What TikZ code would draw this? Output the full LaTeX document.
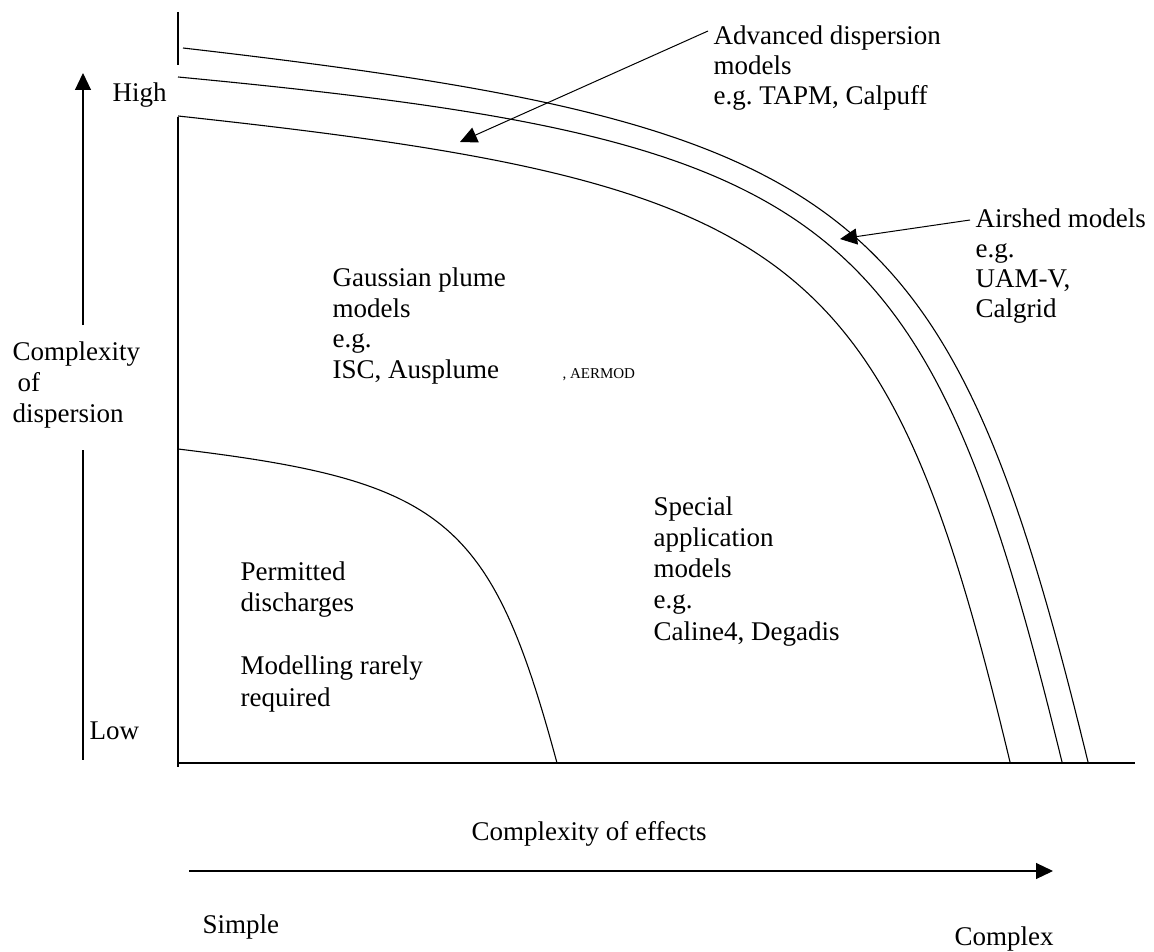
\documentclass[tikz,border=0pt]{standalone}
\usepackage{fontspec}
\setmainfont{Liberation Serif}
\usetikzlibrary{arrows.meta}

\begin{document}
\frenchspacing
\begin{tikzpicture}[x=1pt, y=-1pt, line width=1.1pt,
    lbl/.style={anchor=base west, align=left, inner sep=0pt, font=\fontsize{27}{30.5}\selectfont},
    ptr/.style={-{Triangle[length=17pt,width=16pt]}}]
    \useasboundingbox (0,0) rectangle (1154,952);

    % Draw axes
    \coordinate (O) at (178,763);
    \draw (178,12) -- (178,65);
    \draw (178,117) -- (178,767);
    \draw (O) -- (1135,763);

    % Direction arrows
    \coordinate (yTop) at (83,73);
    \coordinate (yMid) at (83,325);
    \coordinate (yRest) at (83,450);
    \coordinate (yLow) at (83,760);
    \draw[ptr] (yMid) -- (yTop);
    \draw (yRest) -- (yLow);
    \coordinate (xStart) at (189,871);
    \coordinate (xEnd) at (1053,871);
    \draw[ptr] (xStart) -- (xEnd);

    % Model boundaries (outer to inner)
    \draw (183,48) .. controls (859.8,125.9) and (950.3,197.3) .. (1088,762);
    \draw (178,77) .. controls (838.6,139.7) and (927,208.5) .. (1062,762);
    \draw (178,116) .. controls (803.5,183.5) and (886.7,248.1) .. (1010,762);
    \draw (178,449) .. controls (445.5,481.1) and (491,518.8) .. (557,763);

    % Axis labels
    \node[lbl] (hi) at (112,102) {High};
    \node[lbl] (lo) at (89,739) {Low};
    \node[lbl, font=\fontsize{27}{31}\selectfont] (ydisp) at (12,422) {Complexity\\\hspace{5pt}of\\dispersion};
    \node[lbl] (xeff) at (471,840) {Complexity of effects};
    \node[lbl] (simple) at (202,933) {Simple};
    \node[lbl] (complex) at (954,945) {Complex};

    % Model labels (anchored on their last line)
    \node[lbl, font=\fontsize{27}{30}\selectfont] (adv) at (713,105) {Advanced dispersion\\models\\e.g. TAPM, Calpuff};
    \node[lbl, font=\fontsize{27}{30}\selectfont] (air) at (975,317) {Airshed models\\e.g.\\UAM-V,\\Calgrid};
    \node[lbl] (gauss) at (332,378) {Gaussian plume\\models\\e.g.\\ISC, Ausplume};
    \node[lbl, font=\fontsize{15}{18}\selectfont] (aermod) at (562,378) {, AERMOD};
    \node[lbl, font=\fontsize{27}{31.5}\selectfont] (permit) at (240,706) {Permitted\\discharges\\[31.5pt]Modelling rarely\\required};
    \node[lbl, font=\fontsize{27}{31.2}\selectfont] (special) at (653,640) {Special\\application\\models\\e.g.\\Caline4, Degadis};

    % Pointers
    \coordinate (advTail) at (708,31);
    \coordinate (advTip) at (460,142);
    \draw[ptr, line width=1pt] (advTail) -- (advTip);
    \coordinate (airTail) at (970,220);
    \coordinate (airTip) at (840,239);
    \draw[ptr, line width=1pt] (airTail) -- (airTip);

\end{tikzpicture}
\end{document}
